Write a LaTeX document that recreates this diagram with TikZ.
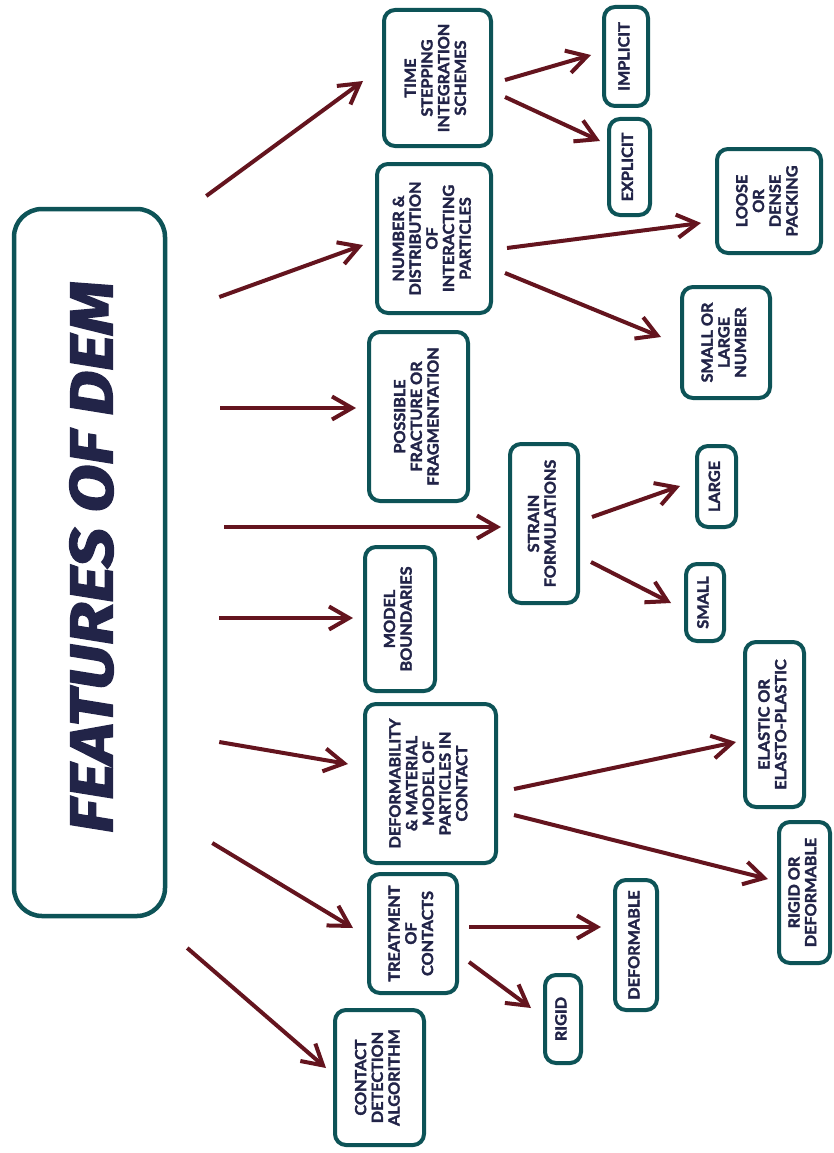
\documentclass[tikz,border=0pt]{standalone}
\usepackage{fontspec}
\usetikzlibrary{arrows.meta,shadows}
\newfontfamily\latofont{Lato}[FakeBold=2.2,FakeStretch=1.06]
\newfontfamily\titlefontfam{Fira Sans}[FakeBold=2.2]
\definecolor{boxteal}{HTML}{0D5357}
\definecolor{arrmaroon}{HTML}{64141E}
\definecolor{txtnavy}{HTML}{222448}
\newcommand\vtext[1]{\rotatebox{90}{\begin{tabular}{@{}c@{}}#1\end{tabular}}}
\begin{document}
\begin{tikzpicture}[x=1pt,y=-1pt,
  bx/.style={draw=boxteal, line width=4pt, fill=white, rounded corners=11pt,
    inner sep=0pt, text=txtnavy,
    font=\latofont\bfseries\fontsize{15.3}{16.7}\selectfont,
    drop shadow={shadow xshift=1.5pt, shadow yshift=-1.5pt, opacity=0.22}},
  wh/.style 2 args={minimum width=#1pt, minimum height=#2pt},
  arr/.style={draw=arrmaroon, line width=4pt,
    -{Straight Barb[length=20pt,width=23pt]}}]
\useasboundingbox (0,0) rectangle (833,1153);
\fill[white] (0,0) rectangle (833,1153);

\node[bx, wh={151}{707}, rounded corners=28pt, line width=4.5pt] (main) at (89.5,562.5) {};
\node[inner sep=0pt, text=txtnavy] (title) at (91.5,557)
  {\rotatebox{90}{\resizebox{552pt}{43pt}{\titlefontfam\bfseries\itshape FEATURES OF DEM}}};

\node[bx, wh={107}{136}] (tss) at (437.5,78) {\vtext{TIME\\STEPPING\\INTEGRATION\\SCHEMES}};
\node[bx, wh={44}{99}] (impl) at (626,56.5) {\vtext{IMPLICIT}};
\node[bx, wh={41}{96}] (expl) at (629.5,167) {\vtext{EXPLICIT}};
\node[bx, wh={114}{149}] (numb) at (434,238.5) {\vtext{NUMBER \&\\DISTRIBUTION\\OF\\INTERACTING\\PARTICLES}};
\node[bx, wh={104}{104}] (loose) at (769,201) {\vtext{LOOSE\\OR\\DENSE\\PACKING}};
\node[bx, wh={88}{111}] (sol) at (726,342.5) {\vtext{SMALL OR\\LARGE\\NUMBER}};
\node[bx, wh={99}{169}] (poss) at (418.5,416.5) {\vtext{POSSIBLE\\FRACTURE OR\\FRAGMENTATION}};
\node[bx, wh={68}{159}] (strain) at (544,523.5) {\vtext{STRAIN\\FORMULATIONS}};
\node[bx, wh={39}{81}] (large) at (716.5,486.5) {\vtext{LARGE}};
\node[bx, wh={38}{77}] (small) at (705,602.5) {\vtext{SMALL}};
\node[bx, wh={70}{144}] (model) at (400,619) {\vtext{MODEL\\BOUNDARIES}};
\node[bx, wh={59}{165}] (elastic) at (774.5,724.5) {\vtext{ELASTIC OR\\ELASTO-PLASTIC}};
\node[bx, wh={131}{159}] (deform) at (430.5,783.5) {\vtext{DEFORMABILITY\\\& MATERIAL\\MODEL OF\\PARTICLES IN\\CONTACT}};
\node[bx, wh={51}{141}] (rod) at (804.5,892.5) {\vtext{RIGID OR\\DEFORMABLE}};
\node[bx, wh={88}{119}] (treat) at (413,933.5) {\vtext{TREATMENT\\OF\\CONTACTS}};
\node[bx, wh={42}{130}] (defb) at (636,945) {\vtext{DEFORMABLE}};
\node[bx, wh={36}{88}] (rigid) at (563,1019) {\vtext{RIGID}};
\node[bx, wh={89}{135}] (cda) at (379.5,1077.5) {\vtext{CONTACT\\DETECTION\\ALGORITHM}};

% first level
\draw[arr] ([shift={(39,-366.5)}]main.east) -- ([shift={(-19,3)}]tss.west);
\draw[arr] ([shift={(52,-265.5)}]main.east) -- ([shift={(-12,6.5)}]numb.west);
\draw[arr] ([shift={(53,-154.5)}]main.east) -- ([shift={(-11,-8.5)}]poss.west);
\draw[arr] ([shift={(57,-35.5)}]main.east) -- ([shift={(-7,3.5)}]strain.west);
\draw[arr] ([shift={(52,55.5)}]main.east) -- ([shift={(-10,-1)}]model.west);
\draw[arr] ([shift={(52,179.5)}]main.east) -- ([shift={(-15,-19.5)}]deform.west);
\draw[arr] ([shift={(45,280.5)}]main.east) -- ([shift={(-14,-5.5)}]treat.west);
\draw[arr] ([shift={(20,385.5)}]main.east) -- ([shift={(-7,-9.5)}]cda.west);
% second level
\draw[arr] ([shift={(12,2)}]tss.east) -- ([shift={(-11,-1.5)}]impl.west);
\draw[arr] ([shift={(12,19)}]tss.east) -- ([shift={(-7,-26)}]expl.west);
\draw[arr] ([shift={(14,9.5)}]numb.east) -- ([shift={(-14,22)}]loose.west);
\draw[arr] ([shift={(12,34.5)}]numb.east) -- ([shift={(-19,-5.5)}]sol.west);
\draw[arr] ([shift={(12,-6.5)}]strain.east) -- ([shift={(-15,-0.5)}]large.west);
\draw[arr] ([shift={(11,38.5)}]strain.east) -- ([shift={(-13,0.5)}]small.west);
\draw[arr] ([shift={(16,5.5)}]deform.east) -- ([shift={(-7,17.5)}]elastic.west);
\draw[arr] ([shift={(16,31.5)}]deform.east) -- ([shift={(-9,-13.5)}]rod.west);
\draw[arr] ([shift={(10,-6.5)}]treat.east) -- ([shift={(-12,-18)}]defb.west);
\draw[arr] ([shift={(10,28.5)}]treat.east) -- ([shift={(-12,-11)}]rigid.west);
\end{tikzpicture}
\end{document}
